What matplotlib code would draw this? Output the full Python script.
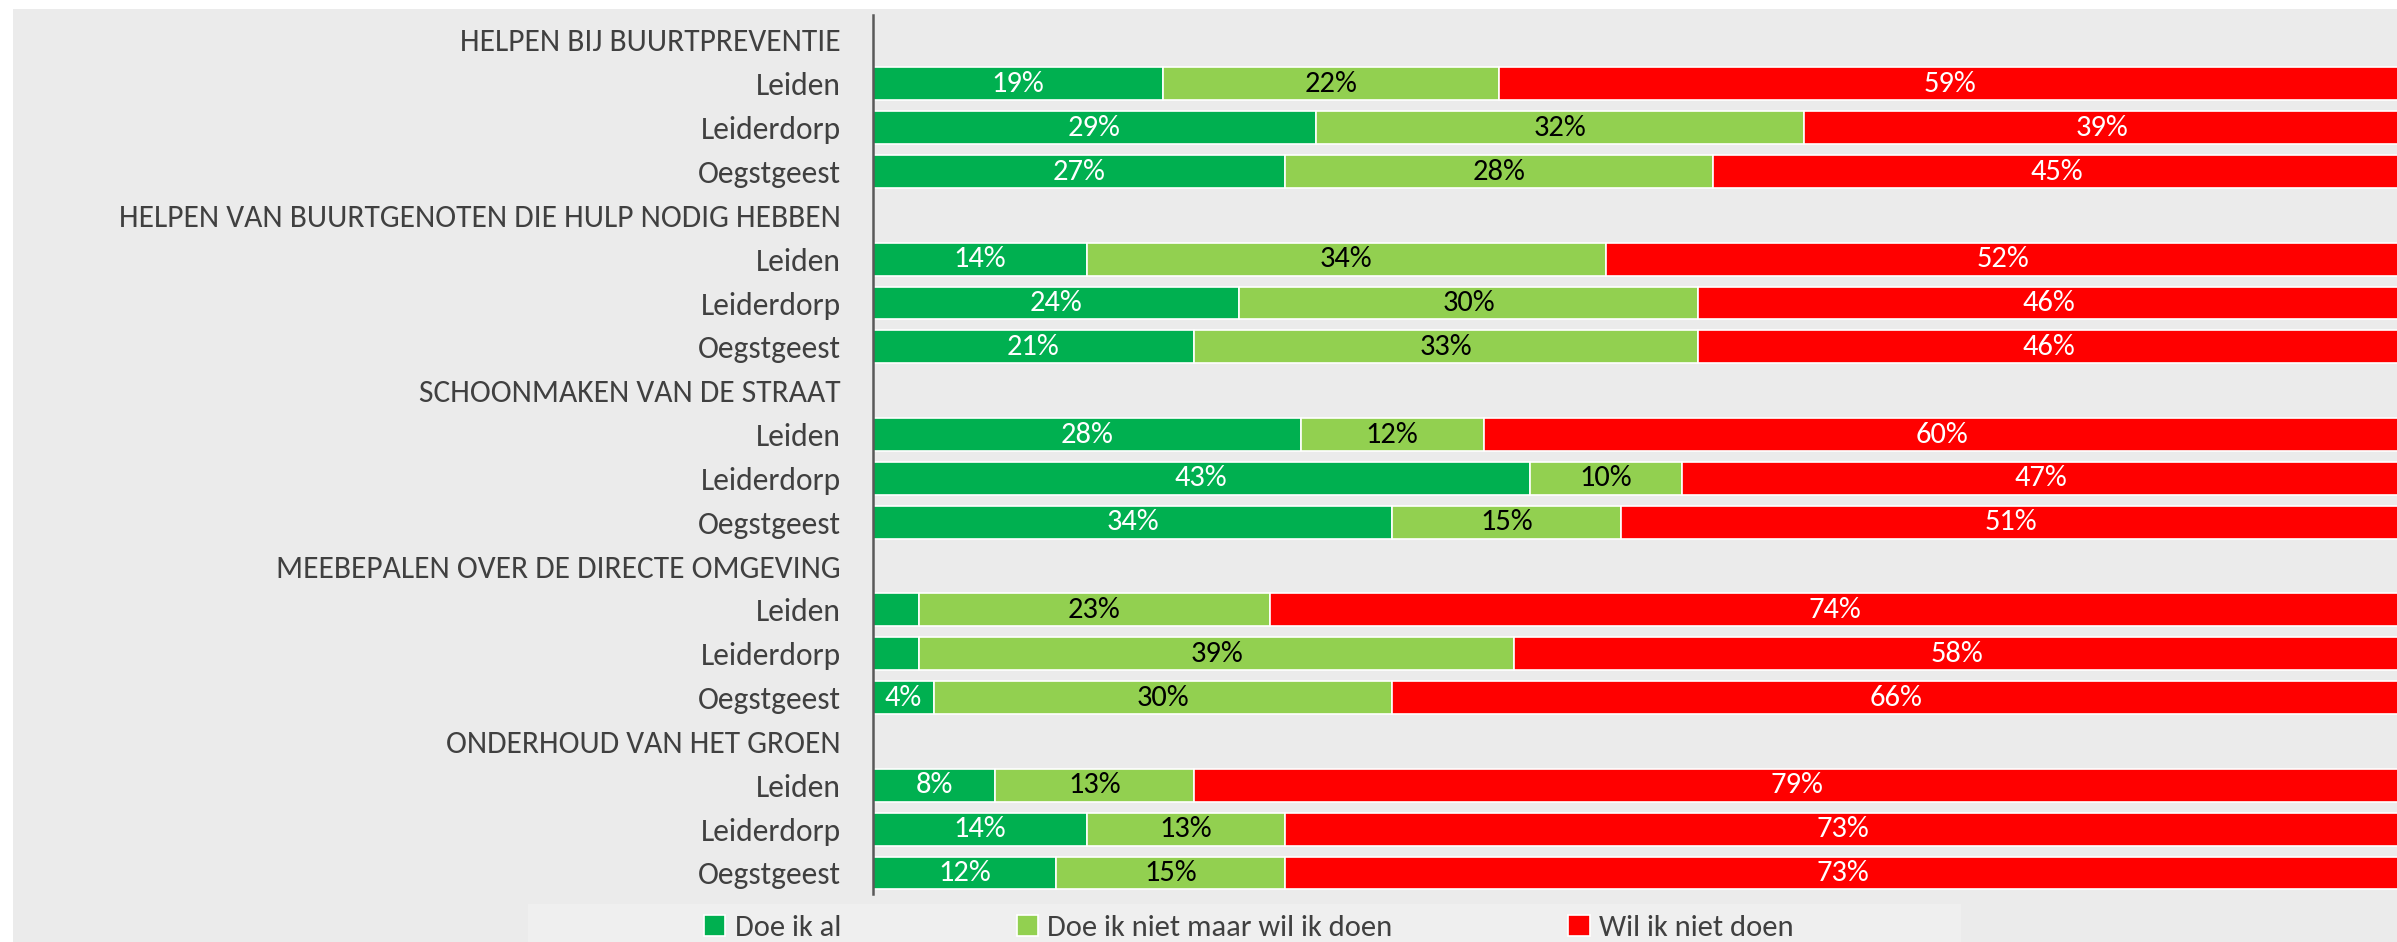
import numpy as np
import matplotlib
matplotlib.use("Agg")
import matplotlib.pyplot as plt
from matplotlib.patches import Rectangle
from matplotlib import font_manager

# Calibri look-alike if present, otherwise Arial metrics at a smaller size
available = {f.name for f in font_manager.fontManager.ttflist}
if "Carlito" in available:
    plt.rcParams["font.family"] = ["Carlito", "DejaVu Sans"]
    fs = 22.7
else:
    plt.rcParams["font.family"] = ["Liberation Sans", "DejaVu Sans"]
    fs = 18.8

# data
groups = [
    "HELPEN BIJ BUURTPREVENTIE",
    "HELPEN VAN BUURTGENOTEN DIE HULP NODIG HEBBEN",
    "SCHOONMAKEN VAN DE STRAAT",
    "MEEBEPALEN OVER DE DIRECTE OMGEVING",
    "ONDERHOUD VAN HET GROEN",
]
cities = ["Leiden", "Leiderdorp", "Oegstgeest"]
doe_al = [19, 29, 27, 14, 24, 21, 28, 43, 34, 3, 3, 4, 8, 14, 12]
wil_wel = [22, 32, 28, 34, 30, 33, 12, 10, 15, 23, 39, 30, 13, 13, 15]
wil_niet = [59, 39, 45, 52, 46, 46, 60, 47, 51, 74, 58, 66, 79, 73, 73]
series_names = ["Doe ik al", "Doe ik niet maar wil ik doen", "Wil ik niet doen"]
colors = ["#00B050", "#92D050", "#FF0000"]
text_colors = ["white", "black", "white"]

# row layout: header row followed by the three cities
ylabels = []
bar_rows = []
row = 0
for g in groups:
    ylabels.append(g)
    row += 1
    for c in cities:
        ylabels.append(c)
        bar_rows.append(row)
        row += 1
bar_rows = np.array(bar_rows)

W, H = 2397, 942
fig = plt.figure(figsize=(W / 100, H / 100), dpi=100, facecolor="white")
fig.patches.append(Rectangle((13 / W, 0), 1, 1 - 9 / H, transform=fig.transFigure,
                             facecolor="#EBEBEB", edgecolor="none", zorder=-10))
fig.patches.append(Rectangle((528 / W, 0), (1961 - 528) / W, 38 / H, transform=fig.transFigure,
                             facecolor="#EFEFEF", edgecolor="none", zorder=-9))

ax = fig.add_axes([873 / W, 48 / H, 1527 / W, 879 / H])
ax.set_facecolor("none")

left = np.zeros(len(bar_rows))
handles = []
for vals, col, tc, name in zip([doe_al, wil_wel, wil_niet], colors, text_colors, series_names):
    vals = np.array(vals)
    bars = ax.barh(bar_rows, vals, left=left, height=0.75, color=col,
                   edgecolor="white", linewidth=1.2, label=name)
    handles.append(bars)
    for b, v in zip(bars, vals):
        if v >= 4:
            ax.text(b.get_x() + b.get_width() / 2, b.get_y() + b.get_height() / 2,
                    f"{v}%", ha="center", va="center", color=tc, fontsize=22)
    left = left + vals

ax.set_xlim(0, 100)
ax.set_ylim(19.48, -0.57)
ax.set_yticks(range(len(ylabels)))
ax.set_yticklabels(ylabels, fontsize=fs, color="#404040")
ax.tick_params(axis="y", length=0, pad=23)
ax.set_xticks([])
for s in ["top", "right", "bottom"]:
    ax.spines[s].set_visible(False)
ax.spines["left"].set_color("#595959")
ax.spines["left"].set_linewidth(1.8)

fig.legend(handles=handles, loc="center left", bbox_to_anchor=(704 / W, 1 - 928 / H),
           ncol=3, frameon=False, fontsize=22, handlelength=0.7, handleheight=0.7,
           handletextpad=0.3, columnspacing=5.75, borderpad=0, borderaxespad=0,
           labelcolor="#404040")

fig.savefig("out.png", dpi=100, facecolor=fig.get_facecolor())
